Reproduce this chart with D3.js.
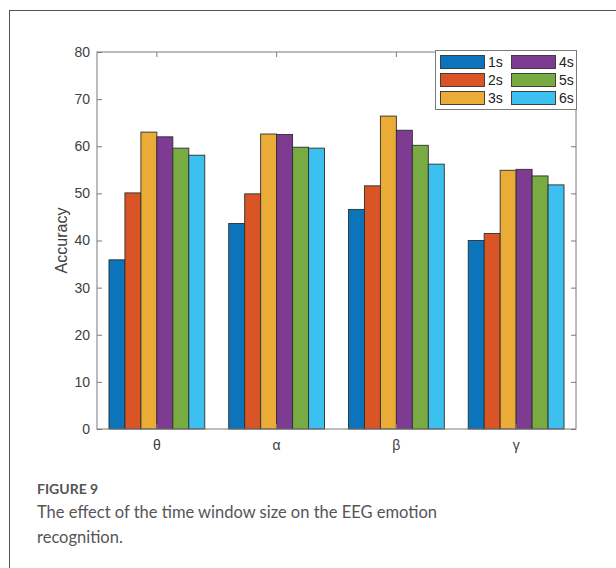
<!DOCTYPE html>
<html>
<head>
<meta charset="utf-8">
<script src="https://cdn.jsdelivr.net/npm/d3@7"></script>
<style>
  html, body { margin: 0; padding: 0; background: #fff; }
  svg { display: block; }
</style>
</head>
<body>
<script>
// ---- data ----
const bands = ["θ", "α", "β", "γ"];
const windows = ["1s", "2s", "3s", "4s", "5s", "6s"];
const acc1s = [35.9, 43.6, 46.6, 40.0];
const acc2s = [50.1, 49.9, 51.6, 41.5];
const acc3s = [63.0, 62.6, 66.4, 54.9];
const acc4s = [62.0, 62.5, 63.4, 55.1];
const acc5s = [59.6, 59.8, 60.2, 53.7];
const acc6s = [58.1, 59.6, 56.2, 51.8];
const seriesValues = [acc1s, acc2s, acc3s, acc4s, acc5s, acc6s];
const yTicks = [0, 10, 20, 30, 40, 50, 60, 70, 80];
const colors = ["#0b74bb", "#d95525", "#ebab37", "#7e3b92", "#78ab42", "#3cc0ef"];

const W = 616, H = 568;
const svg = d3.select("body").append("svg").attr("width", W).attr("height", H);

// outer frame
svg.append("rect").attr("x", 9.5).attr("y", 10.5).attr("width", 800).attr("height", 800)
  .attr("fill", "none").attr("stroke", "#555").attr("stroke-width", 1);

const L = 97, R = 576, T = 52, B = 429;
const x0 = d3.scaleBand().domain(bands).range([L, R]).paddingInner(0).paddingOuter(0);
const x1 = d3.scaleBand().domain(windows).range([0, x0.bandwidth() * 0.8]).padding(0);
const y = d3.scaleLinear().domain([0, 80]).range([B, T]);

const g = svg.append("g");
// bars
bands.forEach((b, i) => {
  const gx = x0(b) + x0.bandwidth() * 0.1;
  g.selectAll(null).data(windows).enter().append("rect")
    .attr("x", (w) => gx + x1(w))
    .attr("y", (w, j) => y(seriesValues[j][i]))
    .attr("width", x1.bandwidth())
    .attr("height", (w, j) => y(0) - y(seriesValues[j][i]))
    .attr("fill", (w, j) => colors[j])
    .attr("stroke", "#2e2e2e").attr("stroke-width", 0.9);
});

const axisColor = "#7a7a7a";
const fontFam = "'Liberation Sans', Arial, sans-serif";
// box
svg.append("rect").attr("x", L).attr("y", T).attr("width", R - L).attr("height", B - T)
  .attr("fill", "none").attr("stroke", axisColor).attr("stroke-width", 1);

// y axis (left) with inward ticks
const yAxisL = d3.axisLeft(y).tickValues(yTicks).tickSizeInner(-5).tickSizeOuter(0).tickPadding(7);
const gyl = svg.append("g").attr("transform", `translate(${L},0)`).call(yAxisL);
gyl.select(".domain").remove();
gyl.selectAll("line").attr("stroke", axisColor);
gyl.selectAll("text").attr("font-family", fontFam).attr("font-size", 14).attr("fill", "#404040");

const yAxisR = d3.axisRight(y).tickValues(yTicks).tickSizeInner(-5).tickSizeOuter(0).tickFormat("");
const gyr = svg.append("g").attr("transform", `translate(${R},0)`).call(yAxisR);
gyr.select(".domain").remove();
gyr.selectAll("line").attr("stroke", axisColor);

// x axis
const xAxisB = d3.axisBottom(x0).tickSizeInner(-5).tickSizeOuter(0).tickPadding(11);
const gxb = svg.append("g").attr("transform", `translate(0,${B})`).call(xAxisB);
gxb.select(".domain").remove();
gxb.selectAll("line").attr("stroke", axisColor);
gxb.selectAll("text").attr("font-family", fontFam).attr("font-size", 14).attr("fill", "#404040");

const xAxisT = d3.axisTop(x0).tickSizeInner(-5).tickSizeOuter(0).tickFormat("");
const gxt = svg.append("g").attr("transform", `translate(0,${T})`).call(xAxisT);
gxt.select(".domain").remove();
gxt.selectAll("line").attr("stroke", axisColor);

// y label
svg.append("text").attr("transform", `translate(67,${(T + B) / 2}) rotate(-90)`)
  .attr("text-anchor", "middle").attr("font-family", fontFam).attr("font-size", 16)
  .attr("fill", "#404040").text("Accuracy");

// legend
const lg = svg.append("g");
lg.append("rect").attr("x", 435.5).attr("y", 50.5).attr("width", 141).attr("height", 59)
  .attr("fill", "#fff").attr("stroke", axisColor);
windows.forEach((w, j) => {
  const col = Math.floor(j / 3), row = j % 3;
  const sx = 440 + col * 71, sy = 55 + row * 18;
  lg.append("rect").attr("x", sx + 0.5).attr("y", sy + 0.5).attr("width", 44).attr("height", 13)
    .attr("fill", colors[j]).attr("stroke", "#333").attr("stroke-width", 0.9);
  lg.append("text").attr("x", sx + 48).attr("y", sy + 12)
    .attr("font-family", fontFam).attr("font-size", 14).attr("fill", "#222").text(w);
});

// caption
const capFont = "Lato, 'Open Sans', sans-serif";
svg.append("text").attr("x", 37).attr("y", 494).attr("font-family", capFont)
  .attr("font-size", 14).attr("font-weight", 700).attr("fill", "#555").text("FIGURE 9");
svg.append("text").attr("x", 37).attr("y", 518).attr("font-family", capFont)
  .attr("font-size", 16.5).attr("fill", "#555")
  .text("The effect of the time window size on the EEG emotion");
svg.append("text").attr("x", 37).attr("y", 543).attr("font-family", capFont)
  .attr("font-size", 16.5).attr("fill", "#555").text("recognition.");
</script>
</body>
</html>
